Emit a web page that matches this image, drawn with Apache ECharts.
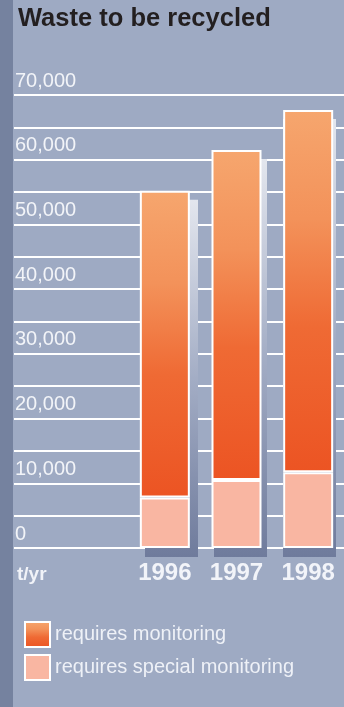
<!DOCTYPE html>
<html>
<head>
<meta charset="utf-8">
<script src="https://cdn.jsdelivr.net/npm/echarts@6/dist/echarts.min.js"></script>
<style>
  html, body { margin: 0; padding: 0; background: #9eaac3; }
  #chart { width: 344px; height: 707px; }
</style>
</head>
<body>
<div id="chart"></div>
<script>
// Waste to be recycled, tonnes per year
const years = ['1996', '1997', '1998'];
const specialMonitoring = [7800, 10500, 11700];   // requires special monitoring
const monitoring = [47400, 51000, 56000];         // requires monitoring
const yTickLabels = ['0', '10,000', '20,000', '30,000', '40,000', '50,000', '60,000', '70,000'];
const seriesNames = ['requires monitoring', 'requires special monitoring'];

const totals = years.map((_, i) => specialMonitoring[i] + monitoring[i]);

const FONT = "'Liberation Sans', Arial, Helvetica, sans-serif";
const Y_MAX = 70000;
const TOP = 95, BOTTOM = 159;

const chart = echarts.init(document.getElementById('chart'), null, { renderer: 'canvas' });

const orangeFill = new echarts.graphic.LinearGradient(0, 0, 0, 1, [
  { offset: 0, color: '#f6a66e' },
  { offset: 0.3, color: '#f3925a' },
  { offset: 0.6, color: '#ef6a34' },
  { offset: 1, color: '#ec5423' }
]);
const shadowFill = new echarts.graphic.LinearGradient(0, 0, 0, 1, [
  { offset: 0, color: '#e3e6ee' },
  { offset: 0.5, color: '#a3adc5' },
  { offset: 1, color: '#6f7b9c' }
]);

chart.setOption({
  backgroundColor: '#9eaac3',
  animation: false,
  textStyle: { fontFamily: FONT },
  graphic: [
    { type: 'rect', left: 0, top: 0, z: -1, shape: { width: 13, height: 707 }, style: { fill: '#75829f' } },
    { type: 'text', left: 18, top: 6, style: { text: 'Waste to be recycled', font: 'bold 25.5px ' + FONT, fill: '#231f20' } },
    { type: 'text', left: 17, top: 565, style: { text: 't/yr', font: 'bold 19px ' + FONT, fill: '#f1f3f8' } }
  ],
  legend: {
    data: seriesNames,
    orient: 'vertical',
    left: 19,
    top: 616,
    itemWidth: 25,
    itemHeight: 25,
    itemGap: 6,
    icon: 'rect',
    textStyle: { color: '#eef1f7', fontSize: 20, fontFamily: FONT, padding: [5, 0, 0, 0] },
    selectedMode: false
  },
  grid: [
    { left: 14, right: 0, top: TOP, bottom: BOTTOM },
    { left: 129, right: 0, top: TOP, bottom: BOTTOM },
    { left: 137, right: -8, top: TOP + 9, bottom: BOTTOM - 9 }
  ],
  xAxis: [
    { gridIndex: 0, type: 'value', show: false },
    {
      gridIndex: 1, type: 'category', data: years,
      axisLine: { show: false }, axisTick: { show: false },
      axisLabel: { color: '#f2f4f9', fontSize: 24, fontWeight: 'bold', fontFamily: FONT, margin: 13 }
    },
    { gridIndex: 2, type: 'category', data: years, show: false }
  ],
  yAxis: [
    {
      gridIndex: 0, type: 'value', min: 0, max: Y_MAX, interval: 5000,
      axisLine: { show: false }, axisTick: { show: false },
      splitLine: { lineStyle: { color: '#ffffff', width: 2 } },
      axisLabel: {
        inside: true, margin: 1, color: '#f2f4f8', fontSize: 20, fontFamily: FONT,
        verticalAlign: 'bottom', padding: [0, 0, 4, 0],
        formatter: v => (v % 10000 === 0 ? yTickLabels[v / 10000] : '')
      }
    },
    { gridIndex: 1, type: 'value', min: 0, max: Y_MAX, show: false },
    { gridIndex: 2, type: 'value', min: 0, max: Y_MAX, show: false }
  ],
  series: [
    {
      name: 'shadow', type: 'bar', xAxisIndex: 2, yAxisIndex: 2,
      data: totals, barWidth: 53, z: 1, silent: true,
      itemStyle: { color: shadowFill }
    },
    {
      name: seriesNames[1], type: 'bar', stack: 'waste', xAxisIndex: 1, yAxisIndex: 1,
      data: specialMonitoring, barWidth: 50, z: 3,
      itemStyle: { color: '#f9b6a2', borderColor: '#ffffff', borderWidth: 2 }
    },
    {
      name: seriesNames[0], type: 'bar', stack: 'waste', xAxisIndex: 1, yAxisIndex: 1,
      data: monitoring, barWidth: 50, z: 3,
      itemStyle: { color: orangeFill, borderColor: '#ffffff', borderWidth: 2 }
    }
  ]
});
</script>
</body>
</html>
